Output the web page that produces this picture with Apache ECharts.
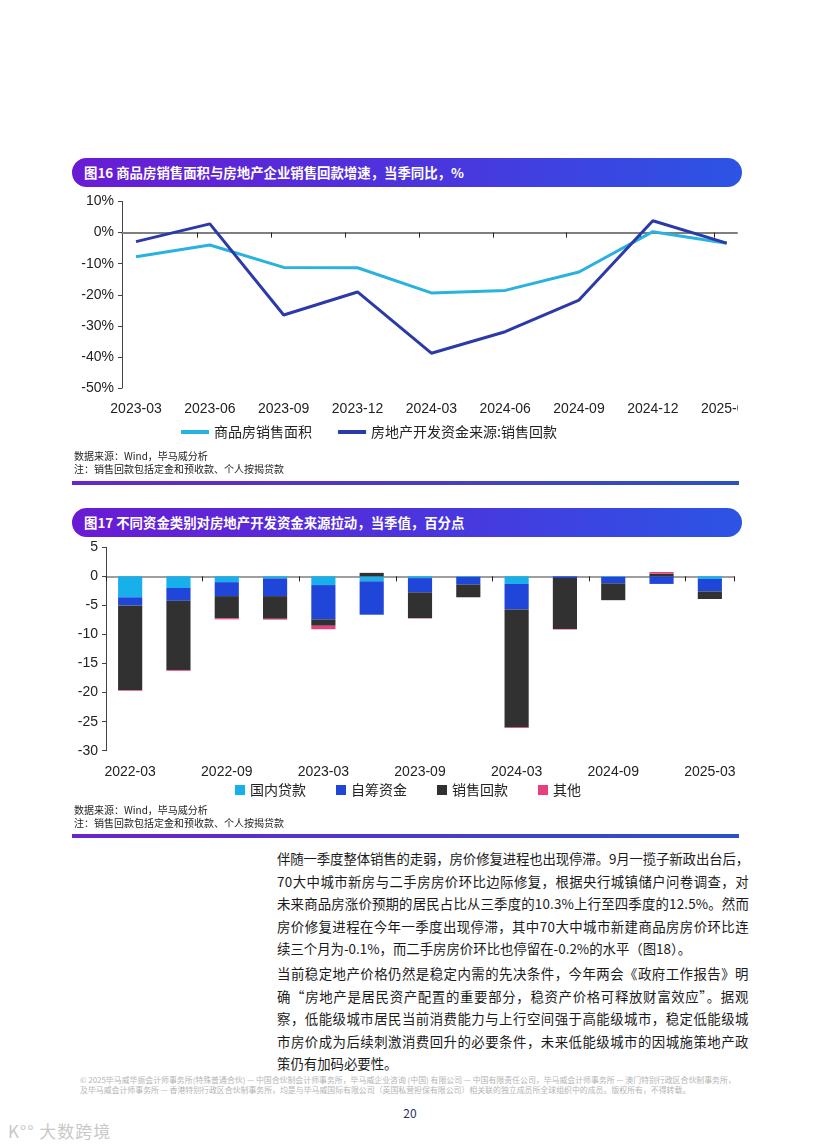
<!DOCTYPE html>
<html><head><meta charset="utf-8">
<script src="https://cdn.jsdelivr.net/npm/echarts@6/dist/echarts.min.js"></script>
<style>
body{margin:0;background:#fff;width:816px;height:1144px;position:relative;overflow:hidden;font-family:"Noto Sans CJK SC","Noto Sans",sans-serif;}
.hdr{position:absolute;left:72px;width:670px;height:29px;border-radius:15px;background:linear-gradient(90deg,#6a1bd3 0%,#4a36de 55%,#2c54e4 100%);color:#fff;font-weight:bold;font-size:13.4px;line-height:29px;padding-left:12px;box-sizing:border-box;}
.note{position:absolute;left:74px;font-size:10px;color:#222;line-height:13px;}
.rule{position:absolute;left:72px;width:667px;height:4px;background:linear-gradient(90deg,#6b24c8,#2b52c2);}
.para{position:absolute;left:277px;width:472px;font-size:13.4px;color:#1a1a1a;}
.para div{height:22.5px;line-height:22.5px;white-space:nowrap;}
.para span{display:inline-block;}
#c1{position:absolute;left:0;top:180px;width:738px;height:270px;}
#c2{position:absolute;left:0;top:535px;width:816px;height:275px;}
.foot{position:absolute;left:80px;font-size:7.9px;color:#b5b5b5;line-height:10px;white-space:nowrap;}
</style></head>
<body>
<div class="hdr" style="top:158px;">图16 商品房销售面积与房地产企业销售回款增速，当季同比，%</div>
<div id="c1"></div>
<div class="note" style="top:449px;">数据来源：Wind，毕马威分析</div>
<div class="note" style="top:462px;">注：销售回款包括定金和预收款、个人按揭贷款</div>
<div class="rule" style="top:481px;"></div>

<div class="hdr" style="top:508px;">图17 不同资金类别对房地产开发资金来源拉动，当季值，百分点</div>
<div id="c2"></div>
<div class="note" style="top:803px;">数据来源：Wind，毕马威分析</div>
<div class="note" style="top:816px;">注：销售回款包括定金和预收款、个人按揭贷款</div>
<div class="rule" style="top:834px;"></div>

<div class="para" style="top:847px;">
<div class="j"><span>伴随一季度整体销售的走弱，房价修复进程也出现停滞。9月一揽子新政出台后，</span></div>
<div class="j"><span>70大中城市新房与二手房房价环比边际修复，根据央行城镇储户问卷调查，对</span></div>
<div class="j"><span>未来商品房涨价预期的居民占比从三季度的10.3%上行至四季度的12.5%。然而</span></div>
<div class="j"><span>房价修复进程在今年一季度出现停滞，其中70大中城市新建商品房房价环比连</span></div>
<div><span>续三个月为-0.1%，而二手房房价环比也停留在-0.2%的水平（图18）。</span></div>
</div>
<div class="para" style="top:962px;">
<div class="j"><span>当前稳定地产价格仍然是稳定内需的先决条件，今年两会《政府工作报告》明</span></div>
<div class="j"><span>确“房地产是居民资产配置的重要部分，稳资产价格可释放财富效应”。据观</span></div>
<div class="j"><span>察，低能级城市居民当前消费能力与上行空间强于高能级城市，稳定低能级城</span></div>
<div class="j"><span>市房价成为后续刺激消费回升的必要条件，未来低能级城市的因城施策地产政</span></div>
<div><span>策仍有加码必要性。</span></div>
</div>

<div class="foot" style="top:1075px;">© 2025毕马威华振会计师事务所(特殊普通合伙) — 中国合伙制会计师事务所，毕马威企业咨询 (中国) 有限公司 — 中国有限责任公司，毕马威会计师事务所 — 澳门特别行政区合伙制事务所，</div>
<div class="foot" style="top:1085px;">及毕马威会计师事务所 — 香港特别行政区合伙制事务所，均是与毕马威国际有限公司（英国私营担保有限公司）相关联的独立成员所全球组织中的成员。版权所有，不得转载。</div>
<div style="position:absolute;left:400px;top:1104px;width:20px;text-align:center;font-size:12px;color:#1e3264;">20</div>
<div style="position:absolute;left:8px;top:1118px;font-size:17px;color:#c8c8c8;letter-spacing:1px;">K°° 大数跨境</div>

<script>
// ---------- Chart 16 data ----------
const cats1 = ['2023-03','2023-06','2023-09','2023-12','2024-03','2024-06','2024-09','2024-12','2025-03'];
const salesArea = [-7.8,-4.0,-11.2,-11.3,-19.4,-18.6,-12.7,0.3,-3.4];
const salesCollection = [-2.9,2.8,-26.5,-19.1,-38.8,-31.9,-21.7,3.8,-3.4];

// ---------- Chart 17 data ----------
const cats2 = ['2022-03','2022-06','2022-09','2022-12','2023-03','2023-06','2023-09','2023-12','2024-03','2024-06','2024-09','2024-12','2025-03'];
const domesticLoans = [-3.6,-2.0,-1.0,-0.35,-1.5,-0.85,-0.3,-0.1,-1.3,0,-0.1,0,-0.45];
const selfRaised = [-1.4,-2.2,-2.4,-3.05,-5.9,-5.75,-2.45,-1.3,-4.4,-0.3,-1.1,-1.3,-2.15];
const salesCollection2 = [-14.6,-11.9,-3.8,-3.9,-1.1,0.6,-4.45,-2.2,-20.3,-8.75,-2.9,0.46,-1.3];
const others = [-0.1,-0.15,-0.2,-0.15,-0.6,0,-0.05,0,-0.1,-0.1,0,0.29,0];
const names2 = ['国内贷款','自筹资金','销售回款','其他'];

// justify paragraph lines via letter-spacing
document.querySelectorAll('.para div.j span').forEach(sp=>{
  const n = sp.textContent.length;
  const w = sp.getBoundingClientRect().width;
  const target = 472;
  sp.style.letterSpacing = ((target - w)/(n)) + 'px';
});

const numFont = 'Liberation Sans';
const idx1 = cats1.map((c,i)=>i);
const tickPos1 = cats1.slice(1).map((c,i)=>i+0.833);

const c1 = echarts.init(document.getElementById('c1'), null, {renderer:'canvas'});
c1.setOption({
  animation:false,
  grid:{left:122,right:1,top:21.5,bottom:62,outerBoundsMode:'none',containLabel:false},
  legend:{top:240,left:'center',icon:'rect',itemWidth:28,itemHeight:4,itemGap:26,
    textStyle:{fontSize:14,color:'#222',fontFamily:'Noto Sans CJK SC'},
    data:['商品房销售面积','房地产开发资金来源:销售回款']},
  xAxis:[
    {type:'value',min:-0.19,max:8.14,position:'bottom',axisLine:{show:false,onZero:false},axisTick:{show:false},splitLine:{show:false},
     axisLabel:{customValues:idx1,formatter:v=>cats1[Math.round(v)],fontSize:14,color:'#222',fontFamily:numFont,margin:14,hideOverlap:false}},
    {type:'value',min:-0.19,max:8.14,position:'bottom',axisLine:{show:true,onZero:true,lineStyle:{color:'#7f7f7f',width:2}},
     axisTick:{show:true,customValues:tickPos1,length:5,lineStyle:{color:'#222',width:1}},axisLabel:{show:false},splitLine:{show:false}}
  ],
  yAxis:{type:'value',min:-50,max:10,interval:10,
    axisLine:{show:true,onZero:false,lineStyle:{color:'#444',width:1}},
    axisTick:{show:true,length:4,lineStyle:{color:'#444'}},
    splitLine:{show:false},
    axisLabel:{formatter:'{value}%',fontSize:14,color:'#222',fontFamily:numFont,margin:8}},
  series:[
    {name:'商品房销售面积',type:'line',xAxisIndex:0,data:salesArea.map((v,i)=>[i,v]),symbol:'none',
     lineStyle:{width:3,color:'#2ab2de'},itemStyle:{color:'#2ab2de'}},
    {name:'房地产开发资金来源:销售回款',type:'line',xAxisIndex:0,data:salesCollection.map((v,i)=>[i,v]),symbol:'none',
     lineStyle:{width:3,color:'#2b3aa8'},itemStyle:{color:'#2b3aa8'}}
  ]
});

const colors2 = ['#18b0ea','#1f45d9','#313131','#e8407f'];
const data2 = [domesticLoans,selfRaised,salesCollection2,others];
const c2 = echarts.init(document.getElementById('c2'), null, {renderer:'canvas'});
c2.setOption({
  animation:false,
  grid:{left:106,right:82,top:12.3,bottom:59.3,outerBoundsMode:'none',containLabel:false},
  legend:{top:243,left:'center',icon:'rect',itemWidth:10,itemHeight:10,itemGap:30,
    textStyle:{fontSize:14,color:'#222',fontFamily:'Noto Sans CJK SC'},data:names2},
  xAxis:[
    {type:'category',data:cats2,position:'bottom',axisLine:{show:true,onZero:true,lineStyle:{color:'#7f7f7f',width:1.5}},
     axisTick:{show:true,length:5,lineStyle:{color:'#222'}},axisLabel:{show:false}},
    {type:'category',data:cats2,position:'bottom',axisLine:{show:false,onZero:false},axisTick:{show:false},
     axisLabel:{interval:1,fontSize:14,color:'#222',fontFamily:numFont,margin:14}}
  ],
  yAxis:{type:'value',min:-30,max:5,interval:5,
    axisLine:{show:true,onZero:false,lineStyle:{color:'#444',width:1}},
    axisTick:{show:true,length:4,lineStyle:{color:'#444'}},
    splitLine:{show:false},
    axisLabel:{fontSize:14,color:'#222',fontFamily:numFont,margin:8}},
  series:names2.map((n,k)=>({name:n,type:'bar',stack:'all',xAxisIndex:0,barWidth:'50%',
    data:data2[k],itemStyle:{color:colors2[k]}}))
});
</script>
</body></html>
